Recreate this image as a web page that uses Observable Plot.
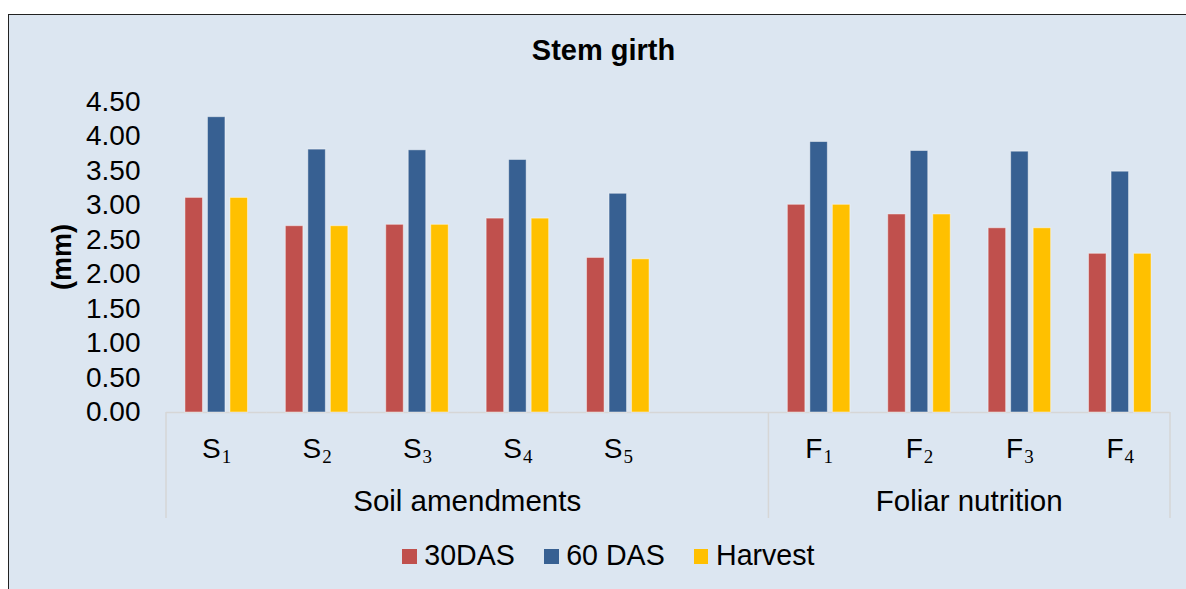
<!DOCTYPE html>
<html>
<head>
<meta charset="utf-8">
<script src="https://cdn.jsdelivr.net/npm/d3@7"></script>
<script src="https://cdn.jsdelivr.net/npm/@observablehq/plot@0.6"></script>
<style>
  html, body { margin: 0; padding: 0; background: #fff; }
  #wrap { position: relative; width: 1186px; height: 589px; overflow: hidden;
          font-family: 'Liberation Sans', Arial, sans-serif; color: #000; }
  #frame { position: absolute; left: 8px; top: 14px; width: 1200px; height: 600px;
           background: #dce6f1; border-left: 1.5px solid #222; border-top: 1.5px solid #222; }
  #title { position: absolute; left: 453.5px; top: 35.5px; width: 300px; text-align: center;
           font-size: 29px; line-height: 29px; font-weight: bold; white-space: nowrap; }
  #ylab { position: absolute; left: 11.7px; top: 241.7px; width: 100px; height: 30px; line-height: 30px;
          text-align: center; font-size: 27px; font-weight: bold; transform: rotate(-90deg); }
  #chart { position: absolute; left: 0; top: 0; }
  #legend { position: absolute; left: 402px; top: 541px; display: flex; align-items: flex-start;
            font-size: 28.6px; line-height: 28px; white-space: nowrap; }
  .item { display: flex; align-items: flex-start; margin-right: 29px; }
  .sw { width: 14.7px; height: 14.7px; margin-top: 8px; margin-right: 7.6px; }
</style>
</head>
<body>
<div id="wrap">
  <div id="frame"></div>
  <div id="chart"></div>
  <div id="title">Stem girth</div>
  <div id="ylab">(mm)</div>
  <div id="legend"></div>
</div>
<script>
// ---- data ----
const soilTreat = ["S1", "S2", "S3", "S4", "S5"];
const foliarTreat = ["F1", "F2", "F3", "F4"];
const groupNames = ["Soil amendments", "Foliar nutrition"];
const seriesNames = ["30DAS", "60 DAS", "Harvest"];
const seriesColors = ["#c0504d", "#376092", "#ffc000"];
// values in treatment order S1..S5, F1..F4
const das30   = [3.11, 2.70, 2.72, 2.81, 2.24, 3.01, 2.87, 2.67, 2.30];
const das60   = [4.28, 3.81, 3.80, 3.66, 3.17, 3.92, 3.79, 3.78, 3.49];
const harvest = [3.11, 2.70, 2.72, 2.81, 2.22, 3.01, 2.87, 2.67, 2.30];
const yTicks = [0, 0.5, 1, 1.5, 2, 2.5, 3, 3.5, 4, 4.5];
const titleText = "Stem girth";

// ---- derived table ----
const gapKey = "";   // blank category between the two groups
const slots = [...soilTreat, gapKey, ...foliarTreat];
const seriesValues = [das30, das60, harvest];
const treatments = [...soilTreat, ...foliarTreat];
const valueOf = (cat, k) => {
  const i = treatments.indexOf(cat);
  return i < 0 ? null : seriesValues[k][i];
};
const rows = slots.flatMap((t) =>
  seriesNames.map((s, k) => ({cat: t, series: s, value: valueOf(t, k)})));
const groups = [
  {name: groupNames[0], first: soilTreat[0], last: gapKey},
  {name: groupNames[1], first: foliarTreat[0], last: foliarTreat[foliarTreat.length - 1]}
];

document.getElementById("title").textContent = titleText;

const chart = Plot.plot({
  width: 1186,
  height: 530,
  marginLeft: 166,
  marginRight: 16,
  marginTop: 101.5,
  marginBottom: 118,
  style: {background: "transparent", fontFamily: "'Liberation Sans', Arial, sans-serif",
          fontSize: "28px", color: "#000", overflow: "visible"},
  facet: {data: rows, x: "cat"},
  fx: {domain: slots, paddingInner: 0, paddingOuter: 0, round: false},
  x: {domain: seriesNames, paddingInner: 0.222, paddingOuter: 0.842, round: false, axis: null},
  y: {domain: [0, 4.5]},
  color: {domain: seriesNames, range: seriesColors},
  marks: [
    Plot.ruleY([0], {stroke: "#d6d6d6", strokeWidth: 1.5}),
    Plot.barY(rows, {x: "series", y: "value", fill: "series",
                     stroke: "#ffffff", strokeOpacity: 0.45, strokeWidth: 1}),
    Plot.axisY({ticks: yTicks, tickFormat: d3.format(".2f"), tickSize: 0, tickPadding: 26,
                label: null, fill: "#000"}),
    Plot.axisFx({anchor: "bottom", tickSize: 0, tickPadding: 26, label: null, fill: "#000"})
  ]
});
document.getElementById("chart").appendChild(chart);

// subscripts for treatment labels
d3.select(chart).selectAll("text").each(function () {
  const m = /^([SF])(\d)$/.exec(this.textContent);
  if (m) {
    const s = d3.select(this);
    s.text("");
    s.append("tspan").text(m[1]);
    s.append("tspan").attr("font-family", "'Liberation Serif', 'DejaVu Serif', serif")
      .attr("font-size", "19px").attr("dx", "1").attr("dy", "5").text(m[2]);
  }
});

// multi-level category axis: group separators and group labels
const fxs = chart.scale("fx");
const ys = chart.scale("y");
const y0 = ys.apply(0);
const bw = fxs.bandwidth;
const svg = d3.select(chart);
const deco = svg.append("g").attr("aria-label", "category groups");
const edges = [];
groups.forEach((g, i) => {
  const a = fxs.apply(g.first), b = fxs.apply(g.last) + bw;
  edges.push(a);
  if (i === groups.length - 1) edges.push(b);
  deco.append("text").attr("x", (a + b) / 2).attr("y", y0 + 99)
    .attr("text-anchor", "middle").attr("fill", "#000").attr("font-size", "29.5px").text(g.name);
});
edges.forEach(x => {
  deco.append("line").attr("x1", x).attr("x2", x).attr("y1", y0).attr("y2", y0 + 106)
    .attr("stroke", "#d6d6d6").attr("stroke-width", 1.5);
});

// legend
const leg = d3.select("#legend");
seriesNames.forEach((s, i) => {
  const it = leg.append("div").attr("class", "item");
  it.append("div").attr("class", "sw").style("background", seriesColors[i]);
  it.append("span").text(s);
});
</script>
</body>
</html>
